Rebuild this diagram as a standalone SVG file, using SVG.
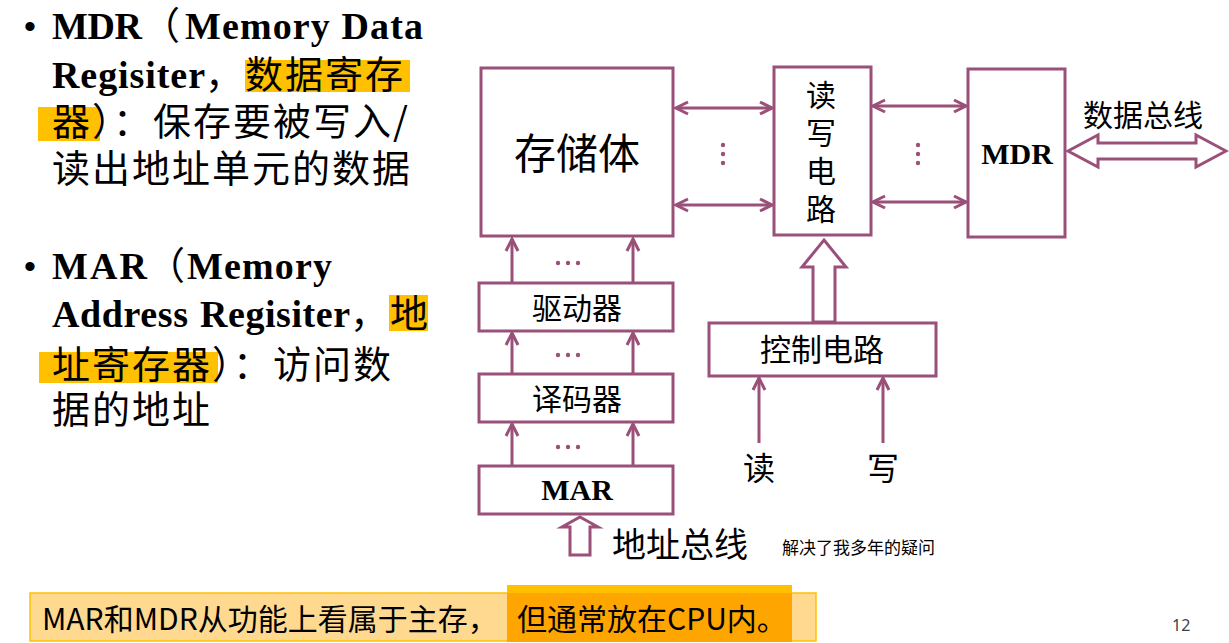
<svg xmlns="http://www.w3.org/2000/svg" width="1229" height="643" viewBox="0 0 1229 643">
<style>
.box{fill:#fff;stroke:#9A5078;stroke-width:3}
.ln{stroke:#9A5078;stroke-width:3;fill:none}
.hol{fill:#fff;stroke:#9A5078;stroke-width:3;stroke-linejoin:miter}
.dot{fill:#9A5078}
.cjk{font-family:"Noto Sans CJK SC",sans-serif;fill:#000}
.ser{font-family:"Liberation Serif","Times New Roman",serif;font-weight:bold;fill:#000}
.lt{font-family:"Liberation Serif",serif;font-weight:bold;font-size:38px}
.lc{font-family:"Noto Sans CJK SC",sans-serif;font-size:38px;letter-spacing:2px}
.hl{fill:#FFC000}
</style>
<defs>
<marker id="ah" markerUnits="userSpaceOnUse" markerWidth="16" markerHeight="16" refX="12" refY="6" orient="auto-start-reverse" viewBox="-2 -2 16 16">
<path d="M0,0 L12,6 L0,12" fill="none" stroke="#9A5078" stroke-width="3"/>
</marker>
</defs>

<g id="left-text">
<text x="24" y="38" style="font-family:'Liberation Sans',sans-serif;font-size:34px">•</text>
<text y="39"><tspan class="lt" x="52" textLength="90">MDR</tspan><tspan class="lc" x="142">（</tspan><tspan class="lt" x="185" textLength="238">Memory Data</tspan></text>
<rect class="hl" x="245" y="60" width="165" height="32"/>
<text y="88"><tspan class="lt" x="52" textLength="153">Regisiter</tspan><tspan class="lc" x="205">，数据寄存</tspan></text>
<rect class="hl" x="38" y="107" width="62" height="34"/>
<text y="135" class="lc" x="52">器）：保存要被写入/</text>
<text y="182" class="lc" x="52">读出地址单元的数据</text>

<text x="24" y="278" style="font-family:'Liberation Sans',sans-serif;font-size:34px">•</text>
<text y="279"><tspan class="lt" x="52" textLength="95">MAR</tspan><tspan class="lc" x="147">（</tspan><tspan class="lt" x="187" textLength="145">Memory</tspan></text>
<rect class="hl" x="389" y="295" width="39" height="36"/>
<text y="327"><tspan class="lt" x="52" textLength="136">Address</tspan><tspan class="lt" x="200" textLength="150">Regisiter</tspan><tspan class="lc" x="350">，地</tspan></text>
<rect class="hl" x="39" y="352" width="179" height="31"/>
<text y="378" class="lc" x="52">址寄存器）：访问数</text>
<text y="423" class="lc" x="52">据的地址</text>
</g>

<g id="connectors">
<line class="ln" x1="676" y1="108" x2="772" y2="108" marker-start="url(#ah)" marker-end="url(#ah)"/>
<line class="ln" x1="676" y1="205" x2="772" y2="205" marker-start="url(#ah)" marker-end="url(#ah)"/>
<line class="ln" x1="873" y1="106" x2="966" y2="106" marker-start="url(#ah)" marker-end="url(#ah)"/>
<line class="ln" x1="873" y1="202" x2="966" y2="202" marker-start="url(#ah)" marker-end="url(#ah)"/>
<circle class="dot" cx="723" cy="145" r="2.2"/><circle class="dot" cx="723" cy="154" r="2.2"/><circle class="dot" cx="723" cy="163" r="2.2"/>
<circle class="dot" cx="918" cy="145" r="2.2"/><circle class="dot" cx="918" cy="154" r="2.2"/><circle class="dot" cx="918" cy="163" r="2.2"/>

<line class="ln" x1="512" y1="282" x2="512" y2="239" marker-end="url(#ah)"/>
<line class="ln" x1="633" y1="282" x2="633" y2="239" marker-end="url(#ah)"/>
<line class="ln" x1="512" y1="373" x2="512" y2="333" marker-end="url(#ah)"/>
<line class="ln" x1="633" y1="373" x2="633" y2="333" marker-end="url(#ah)"/>
<line class="ln" x1="512" y1="465" x2="512" y2="424" marker-end="url(#ah)"/>
<line class="ln" x1="633" y1="465" x2="633" y2="424" marker-end="url(#ah)"/>
<circle class="dot" cx="558" cy="263" r="2.2"/><circle class="dot" cx="568" cy="263" r="2.2"/><circle class="dot" cx="578" cy="263" r="2.2"/>
<circle class="dot" cx="558" cy="355" r="2.2"/><circle class="dot" cx="568" cy="355" r="2.2"/><circle class="dot" cx="578" cy="355" r="2.2"/>
<circle class="dot" cx="558" cy="447" r="2.2"/><circle class="dot" cx="568" cy="447" r="2.2"/><circle class="dot" cx="578" cy="447" r="2.2"/>

<line class="ln" x1="759" y1="443" x2="759" y2="378" marker-end="url(#ah)"/>
<line class="ln" x1="883" y1="443" x2="883" y2="378" marker-end="url(#ah)"/>

<polygon class="hol" points="824,240 846,267 835,267 835,322 813,322 813,267 802,267"/>
<polygon class="hol" points="580,517 598,527 590,527 590,555 570,555 570,527 562,527"/>
<polygon class="hol" points="1068,151 1098,135 1098,143 1196,143 1196,135 1226,151 1196,167 1196,159 1098,159 1098,167"/>
</g>

<g id="node-storage">
<rect class="box" x="481" y="68" width="192" height="168"/>
<text class="cjk" x="577" y="169" font-size="42" text-anchor="middle">存储体</text>
</g>
<g id="node-rw">
<rect class="box" x="774" y="67" width="97" height="168"/>
<g class="cjk" font-size="30" text-anchor="middle">
<text x="821" y="106">读</text><text x="821" y="144">写</text><text x="821" y="182">电</text><text x="821" y="220">路</text>
</g>
</g>
<g id="node-mdr">
<rect class="box" x="968" y="69" width="97" height="168"/>
<text class="ser" x="1017" y="164" font-size="30" text-anchor="middle">MDR</text>
</g>
<g id="node-driver">
<rect class="box" x="479" y="283" width="194" height="48"/>
<text class="cjk" x="577" y="319" font-size="30" text-anchor="middle">驱动器</text>
</g>
<g id="node-decoder">
<rect class="box" x="479" y="374" width="194" height="48"/>
<text class="cjk" x="577" y="410" font-size="30" text-anchor="middle">译码器</text>
</g>
<g id="node-mar">
<rect class="box" x="479" y="466" width="194" height="48"/>
<text class="ser" x="577" y="500" font-size="30" text-anchor="middle">MAR</text>
</g>
<g id="node-control">
<rect class="box" x="709" y="323" width="227" height="53"/>
<text class="cjk" x="822" y="361" font-size="31" text-anchor="middle">控制电路</text>
</g>

<g id="labels">
<text class="cjk" x="759" y="480" font-size="32" text-anchor="middle">读</text>
<text class="cjk" x="883" y="480" font-size="32" text-anchor="middle">写</text>
<text class="cjk" x="1143" y="126" font-size="30" text-anchor="middle">数据总线</text>
<text class="cjk" x="612" y="557" font-size="34">地址总线</text>
<text class="cjk" x="782" y="554" font-size="17" fill="#222">解决了我多年的疑问</text>
</g>

<g id="note">
<rect x="30" y="593" width="786" height="48" fill="#FFD98F" stroke="#FFC000" stroke-width="1.5"/>
<rect x="507" y="585" width="285" height="8" fill="#FFC000"/>
<rect x="507" y="593" width="285" height="49" fill="#FFA500"/>
<text y="630" class="cjk" font-size="30"><tspan x="42">MAR和MDR从功能上看属于主存，</tspan><tspan x="517">但通常放在CPU内。</tspan></text>
<text x="1172" y="631" font-family="'Noto Sans',sans-serif" font-size="16" fill="#404040">12</text>
</g>
</svg>
